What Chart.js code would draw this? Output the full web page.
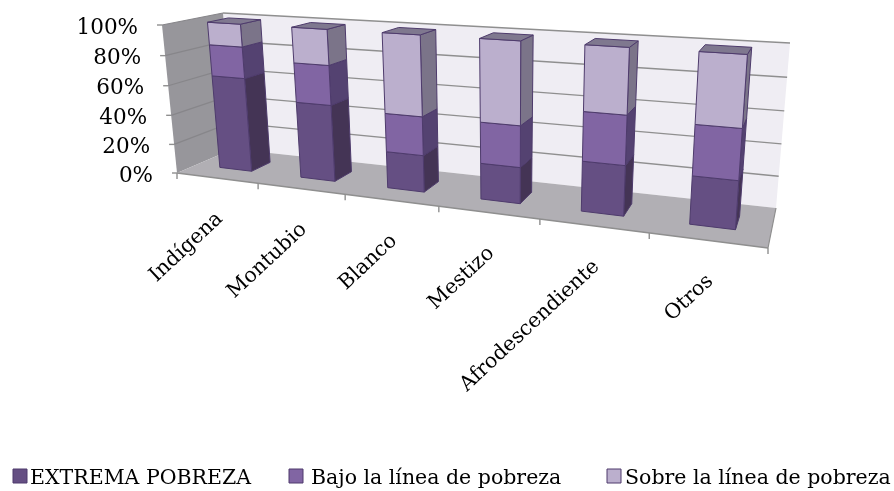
<!DOCTYPE html>
<html>
<head>
<meta charset="utf-8">
<script src="https://cdn.jsdelivr.net/npm/chart.js@4"></script>
<style>
  html, body { margin: 0; padding: 0; background: #fff; }
  #box { width: 894px; height: 491px; }
  canvas { filter: blur(0.5px); }
</style>
</head>
<body>
<div id="box"><canvas id="chart"></canvas></div>
<script>
const categories = ["Indígena", "Montubio", "Blanco", "Mestizo", "Afrodescendiente", "Otros"];
const extrema = [64, 51, 24, 23, 31, 29];
const bajo = [21, 26, 25, 26, 30, 30];
const sobre = [15, 23, 51, 51, 39, 41];
const yTicks = [0, 20, 40, 60, 80, 100];

const FONT = "'DejaVu Serif', serif";

// corners of the 3d box on screen: bottom left, bottom right, top right, top left
const frontPlane = squareToQuad([[177, 173], [768, 248], [782, 64], [162, 25]]);
const backPlane = squareToQuad([[233, 149], [776, 208], [790, 43], [223, 13]]);
const barFront = 0.35, barBack = 0.7;

function squareToQuad(q) {
  const [[x0, y0], [x1, y1], [x2, y2], [x3, y3]] = q;
  const dx3 = x0 - x1 + x2 - x3, dy3 = y0 - y1 + y2 - y3;
  const dx1 = x1 - x2, dx2 = x3 - x2, dy1 = y1 - y2, dy2 = y3 - y2;
  const den = dx1 * dy2 - dx2 * dy1;
  const g = (dx3 * dy2 - dx2 * dy3) / den;
  const h = (dx1 * dy3 - dx3 * dy1) / den;
  const a = x1 - x0 + g * x1, b = x3 - x0 + h * x3;
  const d = y1 - y0 + g * y1, e = y3 - y0 + h * y3;
  return (u, v) => {
    const w = g * u + h * v + 1;
    return [(a * u + b * v + x0) / w, (d * u + e * v + y0) / w];
  };
}

// u, v are 0..1 across the flat scales, z is 0 at the front and 1 at the back
function project(u, v, z) {
  const f = frontPlane(u, v), b = backPlane(u, v);
  return [f[0] + (b[0] - f[0]) * z, f[1] + (b[1] - f[1]) * z];
}

function poly(ctx, pts, fill, stroke) {
  ctx.beginPath();
  pts.forEach((p, i) => (i ? ctx.lineTo(p[0], p[1]) : ctx.moveTo(p[0], p[1])));
  ctx.closePath();
  ctx.fillStyle = fill;
  ctx.fill();
  if (stroke) {
    ctx.strokeStyle = stroke;
    ctx.lineWidth = 1;
    ctx.stroke();
  }
}

function line(ctx, a, b, color, width) {
  ctx.beginPath();
  ctx.moveTo(a[0], a[1]);
  ctx.lineTo(b[0], b[1]);
  ctx.strokeStyle = color;
  ctx.lineWidth = width;
  ctx.stroke();
}

function drawWalls(chart) {
  const ctx = chart.ctx;
  const yScale = chart.scales.y, xScale = chart.scales.x;
  poly(ctx, [project(0, 0, 1), project(1, 0, 1), project(1, 1, 1), project(0, 1, 1)], "#efedf3");
  poly(ctx, [project(0, 0, 0), project(0, 0, 1), project(0, 1, 1), project(0, 1, 0)], "#97969b");
  poly(ctx, [project(0, 0, 0), project(1, 0, 0), project(1, 0, 1), project(0, 0, 1)], "#b1afb4");

  yScale.ticks.forEach(t => {
    const v = t.value / 100;
    const edge = project(0, v, 0);
    if (v > 0) {
      line(ctx, project(0, v, 1), project(1, v, 1), "#8f8f8f", 1.4);
      line(ctx, edge, project(0, v, 1), "#87868a", 1.2);
    }
    line(ctx, edge, [edge[0] - 5, edge[1]], "#8f8f8f", 1.4);
    ctx.font = "21.5px " + FONT;
    ctx.fillStyle = "#000";
    ctx.textAlign = "right";
    ctx.textBaseline = "middle";
    ctx.fillText(t.label, edge[0] - 24, edge[1] + 3);
  });
  line(ctx, project(0, 0, 0), project(1, 0, 0), "#8f8f8f", 1.4);
  line(ctx, project(1, 0, 0), project(1, 0, 1), "#8f8f8f", 1.2);

  for (let i = 0; i <= categories.length; i++) {
    const p = project(i / categories.length, 0, 0);
    line(ctx, p, [p[0], p[1] + 6], "#8f8f8f", 1.4);
  }

  xScale.getLabels().forEach((label, i) => {
    const u = (xScale.getPixelForTick(i) - xScale.left) / xScale.width;
    const p = project(u, 0, 0);
    ctx.save();
    ctx.translate(p[0] + 3, p[1] + 38);
    ctx.rotate(-43 * Math.PI / 180);
    ctx.font = "20.5px " + FONT;
    ctx.fillStyle = "#000";
    ctx.textAlign = "right";
    ctx.textBaseline = "middle";
    ctx.fillText(label, 0, 0);
    ctx.restore();
  });
}

function drawBars(chart) {
  const ctx = chart.ctx;
  const area = chart.chartArea;
  const U = px => (px - area.left) / area.width;
  const V = py => (area.bottom - py) / area.height;
  const last = chart.data.datasets.length - 1;

  categories.forEach((c, i) => {
    chart.data.datasets.forEach((ds, d) => {
      const bar = chart.getDatasetMeta(d).data[i];
      const u0 = U(bar.x - bar.width / 2), u1 = U(bar.x + bar.width / 2);
      const v0 = V(bar.base), v1 = V(bar.y);
      const edge = "#4e3b6c";
      poly(ctx, [project(u1, v0, barFront), project(u1, v0, barBack), project(u1, v1, barBack), project(u1, v1, barFront)], ds.sideColor, edge);
      poly(ctx, [project(u0, v0, barFront), project(u1, v0, barFront), project(u1, v1, barFront), project(u0, v1, barFront)], ds.backgroundColor, edge);
      if (d === last) {
        poly(ctx, [project(u0, v1, barFront), project(u1, v1, barFront), project(u1, v1, barBack), project(u0, v1, barBack)], "#7f788f", edge);
      }
    });
  });
}

// the legend sits tighter than the built in one can lay out
function drawLegend(chart) {
  const ctx = chart.ctx;
  const boxX = [13, 289, 607], textX = [30, 311, 625];
  chart.data.datasets.forEach((ds, d) => {
    poly(ctx, [[boxX[d], 469], [boxX[d] + 14, 469], [boxX[d] + 14, 483], [boxX[d], 483]], ds.backgroundColor, "#4e3b6c");
    ctx.font = "20.5px " + FONT;
    ctx.fillStyle = "#000";
    ctx.textAlign = "left";
    ctx.textBaseline = "middle";
    ctx.fillText(ds.label, textX[d], 479);
  });
}

const perspective = {
  id: "perspective",
  beforeDatasetsDraw(chart) {
    drawWalls(chart);
    drawBars(chart);
    drawLegend(chart);
    return false;
  }
};

new Chart(document.getElementById("chart"), {
  type: "bar",
  data: {
    labels: categories,
    datasets: [
      { label: "EXTREMA POBREZA", data: extrema, backgroundColor: "#654f83", borderColor: "#4e3b6c", borderWidth: 1, sideColor: "#443455" },
      { label: "Bajo la línea de pobreza", data: bajo, backgroundColor: "#8165a3", borderColor: "#4e3b6c", borderWidth: 1, sideColor: "#544271" },
      { label: "Sobre la línea de pobreza", data: sobre, backgroundColor: "#bbafcd", borderColor: "#4e3b6c", borderWidth: 1, sideColor: "#7b7489" }
    ]
  },
  options: {
    responsive: true,
    maintainAspectRatio: false,
    animation: false,
    datasets: { bar: { barPercentage: 0.4, categoryPercentage: 1 } },
    scales: {
      x: {
        stacked: true,
        grid: { display: false },
        border: { display: false },
        ticks: { display: false, autoSkip: false }
      },
      y: {
        stacked: true,
        min: 0,
        max: 100,
        afterBuildTicks(scale) { scale.ticks = yTicks.map(value => ({ value })); },
        grid: { display: false },
        border: { display: false },
        ticks: { display: false, callback: v => v + "%" }
      }
    },
    plugins: {
      tooltip: { enabled: false },
      legend: { display: false }
    }
  },
  plugins: [perspective]
});
</script>
</body>
</html>
